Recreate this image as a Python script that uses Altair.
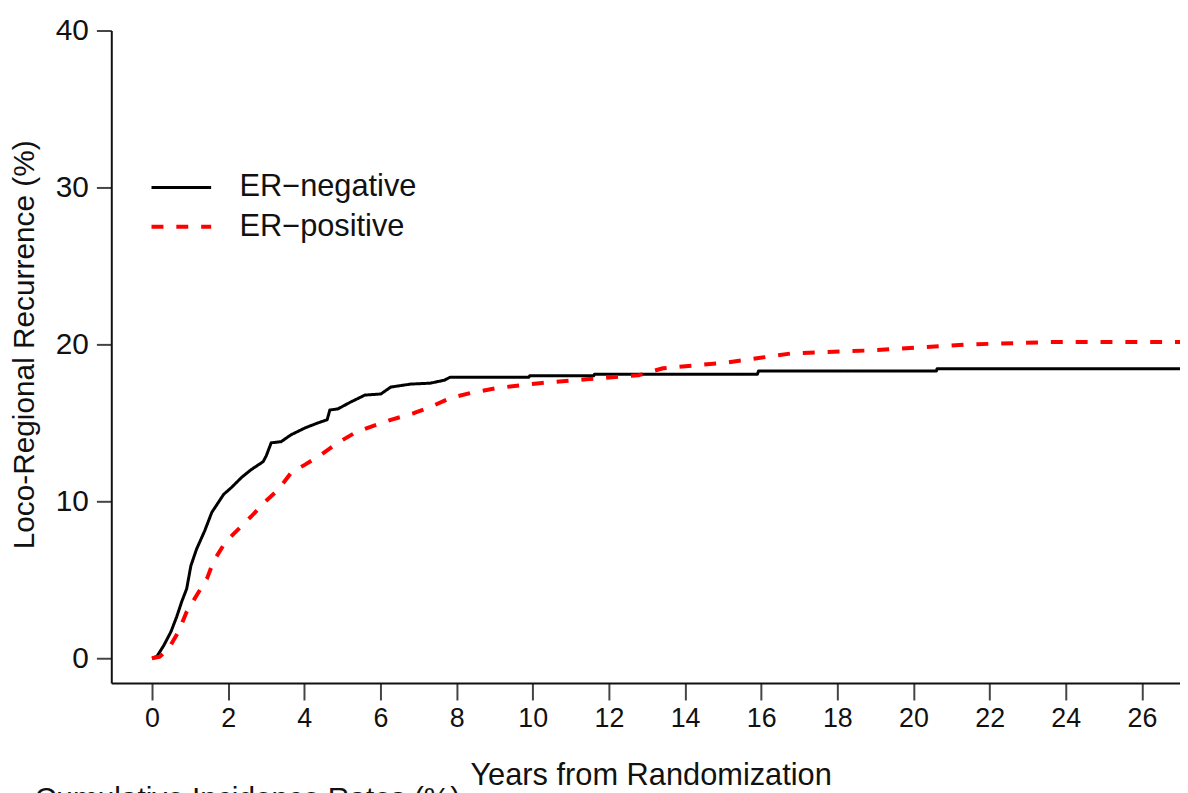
import altair as alt
import pandas as pd

# ER-negative (black solid)
neg_t = [0, 0.13, 0.31, 0.50, 0.65, 0.78, 0.91, 1.02, 1.17, 1.38, 1.57, 1.88, 2.09, 2.35, 2.61, 2.92,
         3.00, 3.13, 3.39, 3.65, 4.02, 4.36, 4.60, 4.67, 4.88, 5.22, 5.59, 6.01, 6.27, 6.79, 7.31, 7.68,
         7.83, 9.90, 9.92, 11.60, 11.62, 15.90, 15.93, 20.60, 20.62, 27.2]
neg_v = [0, 0.13, 0.82, 1.71, 2.66, 3.61, 4.43, 5.89, 6.96, 8.10, 9.30, 10.44, 10.89, 11.52, 12.03, 12.53,
         12.9, 13.73, 13.80, 14.24, 14.68, 15.0, 15.2, 15.82, 15.89, 16.33, 16.77, 16.84, 17.28, 17.47, 17.53, 17.72,
         17.91, 17.91, 18.0, 18.0, 18.1, 18.1, 18.3, 18.3, 18.45, 18.45]

# ER-positive (red dashed)
pos_t = [0, 0.2, 0.44, 0.70, 0.91, 1.23, 1.44, 1.62, 1.93, 2.27, 2.61, 2.98, 3.32, 3.66, 4.02, 4.44, 4.88,
         5.33, 5.74, 6.27, 6.89, 7.31, 7.83, 8.36, 9.06, 10.18, 11.41, 12.79, 13.42, 15.14, 16.81, 18.9,
         21.5, 23.6, 27.2]
pos_v = [0, 0.1, 0.63, 1.71, 2.97, 4.24, 5.06, 6.20, 7.41, 8.23, 9.05, 10.0, 10.76, 11.84, 12.34, 12.97, 13.73,
         14.37, 14.75, 15.19, 15.63, 16.01, 16.58, 16.90, 17.22, 17.53, 17.78, 18.04, 18.48, 18.86, 19.43, 19.62,
         20.0, 20.15, 20.15]

groups = ["ER\u2212negative", "ER\u2212positive"]
x_ticks = list(range(0, 27, 2))
y_ticks = [0, 10, 20, 30, 40]

df = pd.concat([
    pd.DataFrame({"t": neg_t, "v": neg_v, "g": groups[0], "o": range(len(neg_t))}),
    pd.DataFrame({"t": pos_t, "v": pos_v, "g": groups[1], "o": range(len(pos_t))}),
])

FONT = "Liberation Sans"

chart = alt.Chart(df).mark_line(clip=True, strokeJoin="round").encode(
    x=alt.X("t:Q", scale=alt.Scale(domain=[-1.07, 27.0], nice=False, zero=False),
            axis=alt.Axis(values=x_ticks, title="Years from Randomization", grid=False,
                          tickSize=17, tickWidth=2, tickColor="#444", domainColor="#111", domainWidth=2,
                          labelFontSize=27, labelPadding=6, labelColor="#111", labelFont=FONT,
                          titleFont=FONT, titleFontSize=31, titleFontWeight="normal", titleColor="#111",
                          titleX=543, titleY=102, titleBaseline="alphabetic", titleAlign="center")),
    y=alt.Y("v:Q", scale=alt.Scale(domain=[-1.58, 40], nice=False, zero=False),
            axis=alt.Axis(values=y_ticks, title="Loco-Regional Recurrence (%)", grid=False,
                          tickSize=15, tickWidth=2, tickColor="#444", domainColor="#111", domainWidth=2,
                          labelFontSize=30, labelPadding=8, labelColor="#111", labelFont=FONT,
                          titleFont=FONT, titleFontSize=30, titleFontWeight="normal", titleColor="#111",
                          titleX=-87, titleY=316, titleAngle=270, titleBaseline="middle", titleAlign="center")),
    color=alt.Color("g:N", scale=alt.Scale(domain=groups, range=["#000000", "#ff0000"]),
                    legend=alt.Legend(title=None, orient="none", legendX=49, legendY=137,
                                      symbolType="M-1.55,0H1.55", symbolSize=1500, symbolStrokeWidth=4,
                                      labelFontSize=31, labelFont=FONT, labelColor="#111", labelLimit=500,
                                      labelOffset=37, rowPadding=3, padding=0)),
    strokeDash=alt.StrokeDash("g:N", scale=alt.Scale(domain=groups, range=[[1, 0], [12, 13]]), legend=None),
    strokeWidth=alt.StrokeWidth("g:N", scale=alt.Scale(domain=groups, range=[3, 4]), legend=None),
    order="o:Q",
).properties(
    width=1076, height=657,
    autosize=alt.AutoSizeParams(type="none"),
    padding={"left": 104, "top": 20, "right": 0, "bottom": 108},
    title=alt.Title("Cumulative Incidence Rates (%)", orient="bottom", anchor="start",
                    fontSize=30, font=FONT, fontWeight="normal", color="#111",
                    offset=-6, dx=25, baseline="top"),
).configure_view(stroke=None)

chart.save("out.html", embed_options={"renderer": "svg", "actions": False})
